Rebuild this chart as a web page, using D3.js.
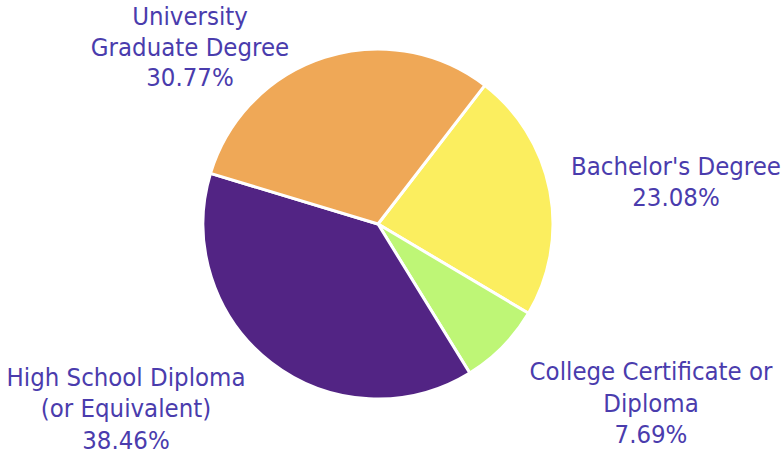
<!DOCTYPE html>
<html>
<head>
<meta charset="utf-8">
<script src="https://cdn.jsdelivr.net/npm/d3@7/dist/d3.min.js"></script>
<style>
  html, body { margin: 0; padding: 0; background: #fff; }
  svg { display: block; }
  .lbl { font-family: "DejaVu Sans Condensed", "DejaVu Sans", sans-serif; font-size: 25.5px; fill: #4a3cad; }
</style>
</head>
<body>
<svg id="chart" width="784" height="455"></svg>
<script>
// Education level shares (drawn clockwise starting with Bachelor's)
const categories = ["Bachelor's Degree", "College Certificate or Diploma", "High School Diploma (or Equivalent)", "University Graduate Degree"];
const values = [23.08, 7.69, 38.46, 30.77];
const labelLines = [
  ["Bachelor's Degree"],
  ["College Certificate or", "Diploma"],
  ["High School Diploma", "(or Equivalent)"],
  ["University", "Graduate Degree"]
];
const colors = ["#fbee5f", "#bef676", "#522484", "#efa857"];

// Layout
const W = 784, H = 455;
const cx = 378, cy = 224, R = 175;
const startDeg = 37.6;
// Label block centres (x, y of the first line's baseline)
const labelPos = [
  [676, 175],
  [651, 380],
  [126, 386],
  [190, 25]
];
const lineGaps = [30.5, 31.5, 31.3, 30.5];

const svg = d3.select("#chart");
const g = svg.append("g").attr("transform", `translate(${cx},${cy})`);

const pie = d3.pie().sort(null).value(d => d)
  .startAngle(startDeg * Math.PI / 180)
  .endAngle((startDeg + 360) * Math.PI / 180);
const arc = d3.arc().innerRadius(0).outerRadius(R);

g.selectAll("path")
  .data(pie(values))
  .join("path")
  .attr("d", arc)
  .attr("fill", (d, i) => colors[i])
  .attr("stroke", "#fff")
  .attr("stroke-width", 3)
  .attr("stroke-linejoin", "round");

const fmt = d3.format(".2f");
labelLines.forEach((lines, i) => {
  const t = svg.append("text")
    .attr("class", "lbl")
    .attr("text-anchor", "middle")
    .attr("x", labelPos[i][0])
    .attr("y", labelPos[i][1]);
  lines.concat([fmt(values[i]) + "%"]).forEach((ln, k) => {
    t.append("tspan")
      .attr("x", labelPos[i][0])
      .attr("dy", k === 0 ? 0 : lineGaps[i])
      .text(ln);
  });
});
</script>
</body>
</html>
